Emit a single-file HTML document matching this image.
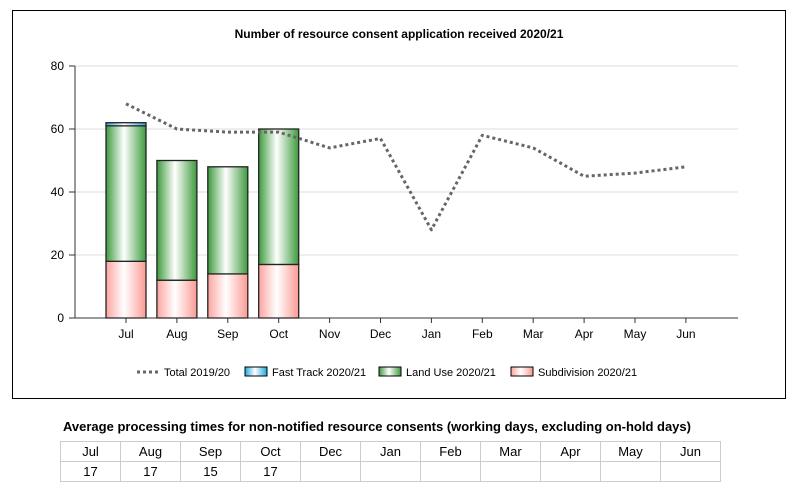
<!DOCTYPE html>
<html><head><meta charset="utf-8"><style>
body{margin:0;background:#fff;font-family:"Liberation Sans",sans-serif;width:798px;height:493px;overflow:hidden;position:relative}
table{position:absolute;left:60px;top:441px;border-collapse:collapse;font-size:13px}
td{border:1px solid #ccc;width:59px;height:19px;text-align:center;padding:0}
</style></head><body>
<svg width="798" height="410" style="position:absolute;left:0;top:0">
<defs>
<linearGradient id="gG" x1="0" x2="1"><stop offset="0" stop-color="#3d9a3d"/><stop offset="0.45" stop-color="#fff"/><stop offset="1" stop-color="#3d9a3d"/></linearGradient>
<linearGradient id="gR" x1="0" x2="1"><stop offset="0" stop-color="#fca4a0"/><stop offset="0.45" stop-color="#fff"/><stop offset="1" stop-color="#fb9a94"/></linearGradient>
<linearGradient id="gB" x1="0" x2="1"><stop offset="0" stop-color="#1aa8e0"/><stop offset="0.45" stop-color="#fff"/><stop offset="1" stop-color="#1aa8e0"/></linearGradient>
</defs>
<rect x="12.5" y="10.5" width="773" height="388" fill="#fff" stroke="#000"/>
<text x="399" y="38" text-anchor="middle" font-size="12" font-weight="bold">Number  of  resource  consent  application  received  2020/21</text>
<g id="grid"></g><g id="bars"></g><g id="line"></g><g id="axes"></g>
<g font-size="11">
<line x1="137" y1="372" x2="158" y2="372" stroke="#666" stroke-width="3" stroke-dasharray="3,3"/><text x="164" y="376">Total 2019/20</text>
<rect x="245" y="367" width="22" height="9" fill="url(#gB)" stroke="#000"/><text x="272" y="376">Fast Track 2020/21</text>
<rect x="379" y="367" width="22" height="9" fill="url(#gG)" stroke="#000"/><text x="406" y="376">Land Use 2020/21</text>
<rect x="511" y="367" width="22" height="9" fill="url(#gR)" stroke="#000"/><text x="538" y="376">Subdivision 2020/21</text>
</g>
</svg>
<div style="position:absolute;left:63px;top:419px;font-size:13px;font-weight:bold">Average processing times for non-notified resource consents (working days, excluding on-hold days)</div>
<table>
<tr><td>Jul</td><td>Aug</td><td>Sep</td><td>Oct</td><td>Dec</td><td>Jan</td><td>Feb</td><td>Mar</td><td>Apr</td><td>May</td><td>Jun</td></tr>
<tr><td>17</td><td>17</td><td>15</td><td>17</td><td></td><td></td><td></td><td></td><td></td><td></td><td></td></tr>
</table>
<script>
const months=["Jul","Aug","Sep","Oct","Nov","Dec","Jan","Feb","Mar","Apr","May","Jun"];
const total2019=[68,60,59,59,54,57,28,58,54,45,46,48];
const subdivision=[18,12,14,17];
const landUse=[43,38,34,43];
const fastTrack=[1,0,0,0];
const yTicks=[0,20,40,60,80];
const NS="http://www.w3.org/2000/svg";
const x=i=>126+i*50.9, y=v=>318-v*3.15;
function mk(p,t,a){const e=document.createElementNS(NS,t);for(const k in a)e.setAttribute(k,a[k]);document.getElementById(p).appendChild(e);return e;}
yTicks.forEach(v=>{
 if(v>0){const g=mk('grid','line',{x1:75,x2:738,y1:y(v),y2:y(v),stroke:'#ddd'});
 
 }
 mk('axes','line',{x1:69,x2:75,y1:y(v),y2:y(v),stroke:'#333'});
 const t=mk('axes','text',{x:64,y:y(v)+4,'text-anchor':'end','font-size':12});t.textContent=v;
 
 
});
mk('axes','line',{x1:75,x2:75,y1:66,y2:318,stroke:'#333'});
mk('axes','line',{x1:75,x2:738,y1:318,y2:318,stroke:'#333'});
months.forEach((m,i)=>{
 mk('axes','line',{x1:x(i),x2:x(i),y1:318,y2:323,stroke:'#333'});
 const t=mk('axes','text',{x:x(i),y:338,'text-anchor':'middle','font-size':12});t.textContent=m;
 
 
});
subdivision.forEach((s,i)=>{
 let base=0;
 [[s,'url(#gR)','bar-subdivision'],[landUse[i],'url(#gG)','bar-land-use'],[fastTrack[i],'url(#gB)','bar-fast-track']].forEach(([v,f,n])=>{
  if(v>0){const r=mk('bars','rect',{x:x(i)-20,width:40,y:y(base+v),height:v*3.15,fill:f,stroke:'#222','stroke-width':1.3});
  
  }
  base+=v;
 });
});
const pl=mk('line','polyline',{points:total2019.map((v,i)=>x(i)+','+y(v)).join(' '),fill:'none',stroke:'#666','stroke-width':3,'stroke-dasharray':'3,3','stroke-linejoin':'round'});


</script>
</body></html>
